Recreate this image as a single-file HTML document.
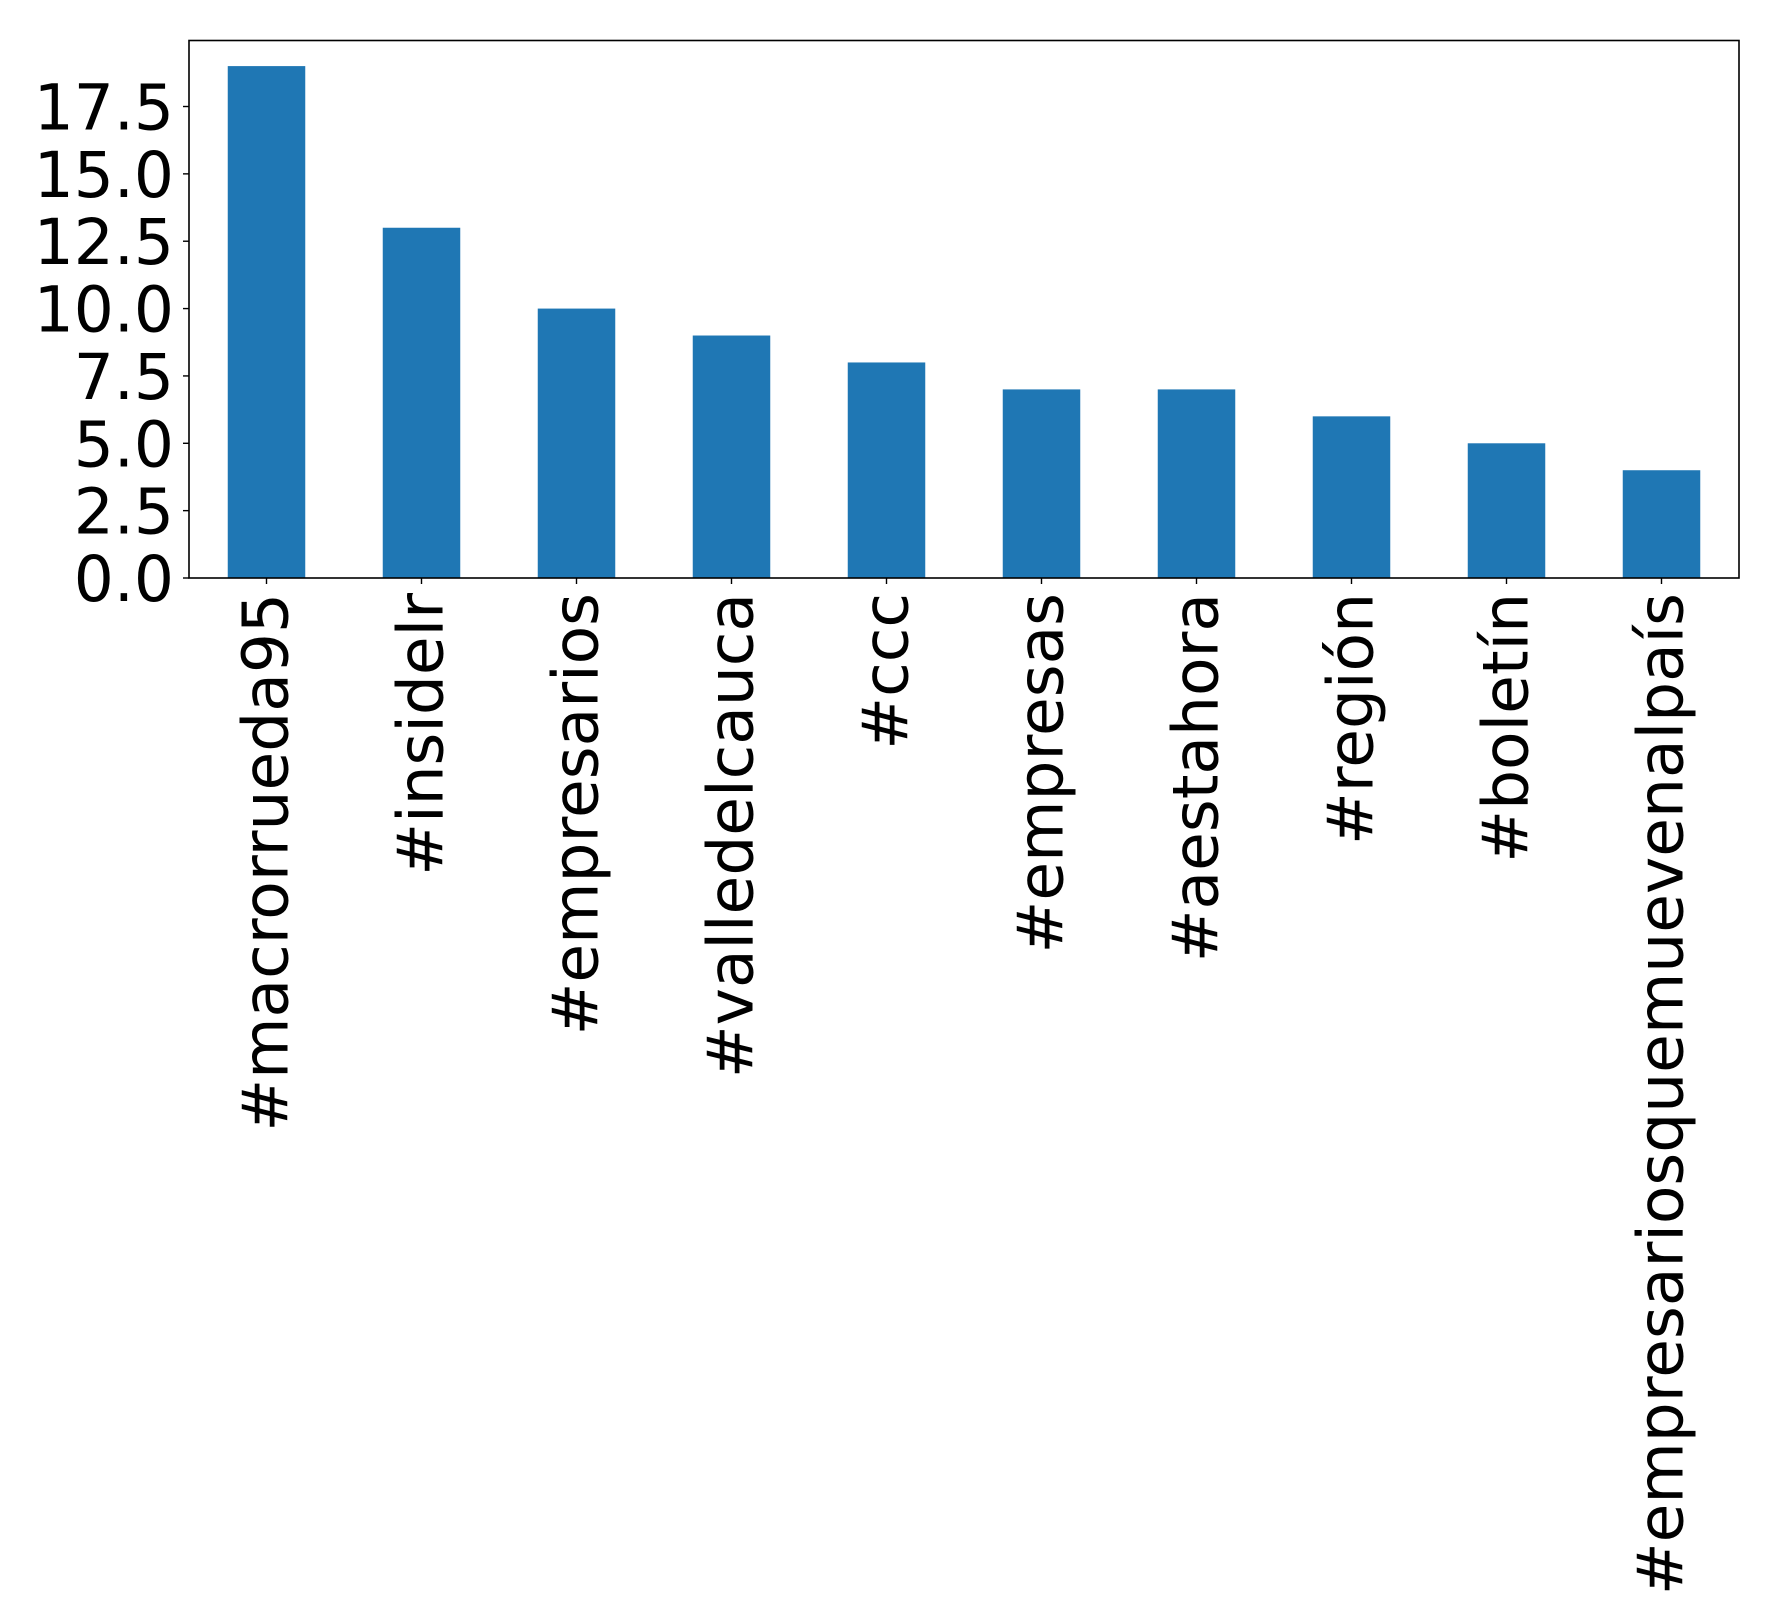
<!DOCTYPE html>
<html><head><meta charset="utf-8"><style>
html,body{margin:0;padding:0;background:#fff;}
svg{display:block;font-family:"DejaVu Sans","Liberation Sans",sans-serif;}
</style></head><body>
<svg id="chart" width="1778" height="1622" xmlns="http://www.w3.org/2000/svg"></svg>
<script>
const categories = ["#macrorrueda95","#insidelr","#empresarios","#valledelcauca","#ccc","#empresas","#aestahora","#región","#boletín","#empresariosquemuevenalpaís"];
const counts = [19,13,10,9,8,7,7,6,5,4];
const yTicks = [0,2.5,5,7.5,10,12.5,15,17.5];
const yTickLabels = ["0.0","2.5","5.0","7.5","10.0","12.5","15.0","17.5"];

const L=189, R=1739, T=40.5, B=578;
const yMax = Math.max(...counts)*1.05;
const xs = i => L + (i + 0.5) * (R - L) / categories.length;
const ys = v => B - v * (B - T) / yMax;
const bw = 0.5 * (R - L) / categories.length;
const svg = document.getElementById('chart');
const NS = "http://www.w3.org/2000/svg";
function mk(tag, attrs){const e=document.createElementNS(NS,tag);for(const k in attrs)e.setAttribute(k,attrs[k]);svg.appendChild(e);return e;}

counts.forEach((v,i)=>{
  const r = mk('rect',{x:xs(i)-bw/2,y:ys(v),width:bw,height:B-ys(v),fill:'#1f77b4'});
  
  
});

const frame = mk('rect',{x:L,y:T,width:R-L,height:B-T,fill:'none',stroke:'#000','stroke-width':1.6});



yTicks.forEach((t,i)=>{
  const y = ys(t);
  const tk = mk('line',{x1:L-6,x2:L,y1:y,y2:y,stroke:'#000','stroke-width':1.4});
  
  
  const tx = mk('text',{x:L-15,y:y+23,'text-anchor':'end','font-size':63,fill:'#000'});
  tx.textContent = yTickLabels[i];
  
  
});

categories.forEach((c,i)=>{
  const x = xs(i);
  const tk = mk('line',{x1:x,x2:x,y1:B,y2:B+6,stroke:'#000','stroke-width':1.4});
  
  
  const tx = mk('text',{x:0,y:0,'text-anchor':'end','font-size':63,fill:'#000',transform:`translate(${x+21},${B+15}) rotate(-90)`});
  tx.textContent = c;
  
  
});
</script>
</body></html>
